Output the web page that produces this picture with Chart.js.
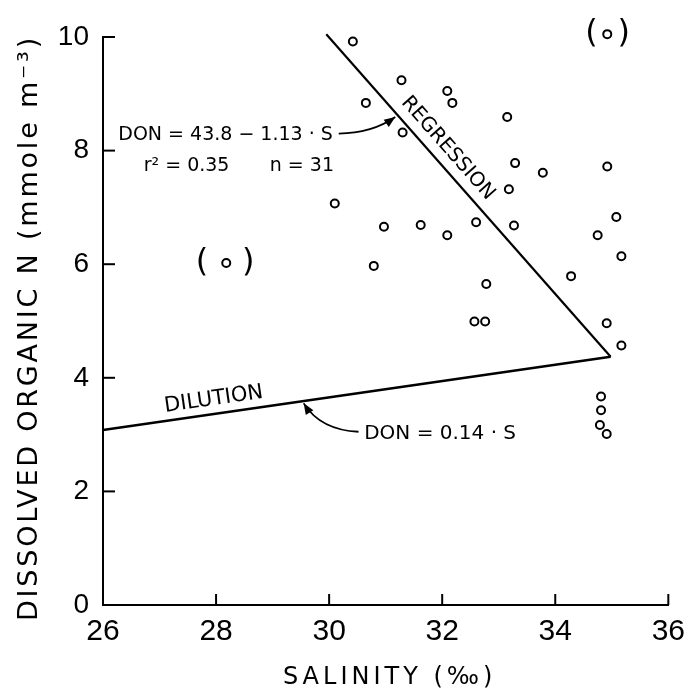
<!DOCTYPE html>
<html>
<head>
<meta charset="utf-8">
<script src="https://cdn.jsdelivr.net/npm/chart.js@4.4.0/dist/chart.umd.min.js"></script>
<style>
html,body{margin:0;padding:0;background:#fff;}
#wrap{width:694px;height:695px;}
canvas{display:block;}
</style>
</head>
<body>
<div id="wrap"><canvas id="c" width="694" height="695"></canvas></div>
<script>
// ---- data ----
const salinity = [30.42, 31.28, 30.65, 32.09, 32.18, 31.30, 33.15, 33.29, 33.78, 34.92,
                  33.18, 30.10, 30.97, 31.62, 32.09, 32.60, 33.27, 35.08, 34.75, 35.17,
                  30.79, 32.78, 34.28, 32.57, 32.76, 34.91, 35.17, 34.81, 34.81, 34.79, 34.91];
const don      = [9.92, 9.24, 8.84, 9.05, 8.84, 8.32, 8.59, 7.78, 7.61, 7.72,
                  7.32, 7.07, 6.66, 6.69, 6.51, 6.74, 6.68, 6.83, 6.51, 6.14,
                  5.97, 5.65, 5.79, 4.99, 4.99, 4.96, 4.57, 3.67, 3.43, 3.17, 3.01];
const excludedSalinity = [28.18, 34.92];
const excludedDon = [6.02, 10.05];
const regressionS = [29.95, 34.98];
const regressionDon = [10.05, 4.37];
const dilutionS = [26, 34.98];
const dilutionDon = [3.08, 4.37];
const xTicks = [26, 28, 30, 32, 34, 36];
const yTicks = [0, 2, 4, 6, 8, 10];
const xTitle = 'SALINITY (‰)';
const yTitle = 'DISSOLVED ORGANIC N (mmole m⁻³)';

const FONT = "'DejaVu Sans', sans-serif";
const TICKFONT = "'Liberation Sans', Arial, sans-serif";
const toXY = (xs, ys) => xs.map((x, i) => ({x: x, y: ys[i]}));

const annotationPlugin = {
  id: 'annot',
  afterDatasetsDraw(chart) {
    const ctx = chart.ctx;
    const xs = chart.scales.x, ys = chart.scales.y;
    const area = chart.chartArea;
    const P = (x, y) => [xs.getPixelForValue(x), ys.getPixelForValue(y)];
    ctx.save();
    ctx.fillStyle = '#000';
    ctx.strokeStyle = '#000';
    // inward tick marks
    ctx.lineWidth = 2;
    yTicks.forEach(v => {
      if (v === yTicks[0]) return;
      const y = ys.getPixelForValue(v);
      ctx.beginPath(); ctx.moveTo(area.left, y); ctx.lineTo(area.left + 12, y); ctx.stroke();
    });
    xTicks.forEach(v => {
      if (v === xTicks[0]) return;
      const x = xs.getPixelForValue(v);
      ctx.beginPath(); ctx.moveTo(x, area.bottom); ctx.lineTo(x, area.bottom - 11); ctx.stroke();
    });

    function text(str, x, y, size, align, rot, spacing) {
      const [px, py] = P(x, y);
      ctx.save();
      ctx.translate(px, py);
      if (rot) ctx.rotate(rot);
      ctx.font = size + 'px ' + FONT;
      ctx.letterSpacing = (spacing || 0) + 'px';
      ctx.textAlign = align || 'left';
      ctx.textBaseline = 'middle';
      ctx.fillText(str, 0, 0);
      ctx.restore();
    }
    function arrow(x0, y0, cx, cy, x1, y1) {
      const [a, b] = P(x0, y0), [c, d] = P(cx, cy), [e, f] = P(x1, y1);
      ctx.lineWidth = 1.8;
      ctx.beginPath(); ctx.moveTo(a, b); ctx.quadraticCurveTo(c, d, e, f); ctx.stroke();
      const ang = Math.atan2(f - d, e - c);
      const L = 11, W = 4.5;
      ctx.beginPath();
      ctx.moveTo(e, f);
      ctx.lineTo(e - L * Math.cos(ang) + W * Math.sin(ang), f - L * Math.sin(ang) - W * Math.cos(ang));
      ctx.lineTo(e - L * Math.cos(ang) - W * Math.sin(ang), f - L * Math.sin(ang) + W * Math.cos(ang));
      ctx.closePath(); ctx.fill();
    }

    // regression label along the line
    const [r1x, r1y] = P(regressionS[0], regressionDon[0]);
    const [r2x, r2y] = P(regressionS[1], regressionDon[1]);
    const regAng = Math.atan2(r2y - r1y, r2x - r1x);
    text('REGRESSION', 32.10, 8.04, 20, 'center', regAng);

    const [d1x, d1y] = P(dilutionS[0], dilutionDon[0]);
    const [d2x, d2y] = P(dilutionS[1], dilutionDon[1]);
    const dilAng = Math.atan2(d2y - d1y, d2x - d1x);
    text('DILUTION', 27.96, 3.62, 21, 'center', dilAng);

    text('DON = 43.8 − 1.13 · S', 26.27, 8.28, 19, 'left');
    text('r² = 0.35', 26.72, 7.72, 19, 'left');
    text('n = 31', 28.95, 7.72, 19, 'left');
    arrow(30.17, 8.30, 30.75, 8.30, 31.17, 8.59);

    text('DON = 0.14 · S', 30.62, 3.02, 20, 'left');
    arrow(30.52, 3.05, 29.85, 3.08, 29.55, 3.55);

    // parentheses around excluded points
    text('(', 27.75, 6.02, 32, 'center');
    text(')', 28.57, 6.02, 32, 'center');
    text('(', 34.64, 10.05, 32, 'center');
    text(')', 35.21, 10.05, 32, 'center');
    ctx.restore();
  },
  afterDraw(chart) {
    // axis titles (drawn with letter spacing as in the original lettering)
    const ctx = chart.ctx;
    const xs = chart.scales.x, ys = chart.scales.y;
    ctx.save();
    ctx.fillStyle = '#000';
    ctx.textAlign = 'center';
    ctx.textBaseline = 'middle';
    ctx.font = '24px ' + FONT;
    ctx.letterSpacing = '4px';
    ctx.fillText(xTitle, (xs.left + xs.right) / 2 + 4, xs.bottom - 17);
    ctx.translate(ys.left + 30, (ys.top + ys.bottom) / 2 + 7);
    ctx.rotate(-Math.PI / 2);
    ctx.font = '27px ' + FONT;
    ctx.letterSpacing = '2.8px';
    ctx.fillText(yTitle, 0, 0);
    ctx.restore();
  }
};

const pointStyle = {
  pointRadius: 4, pointBorderWidth: 2, pointBorderColor: '#000',
  pointBackgroundColor: '#fff', showLine: false
};

new Chart(document.getElementById('c'), {
  type: 'scatter',
  data: {
    datasets: [
      Object.assign({label: 'Stations', data: toXY(salinity, don), clip: false}, pointStyle),
      Object.assign({label: 'Excluded', data: toXY(excludedSalinity, excludedDon), clip: false}, pointStyle),
      {label: 'Regression', data: toXY(regressionS, regressionDon), showLine: true,
       borderColor: '#000', borderWidth: 2.2, pointRadius: 0, clip: false},
      {label: 'Dilution', data: toXY(dilutionS, dilutionDon), showLine: true,
       borderColor: '#000', borderWidth: 2.6, pointRadius: 0, clip: false}
    ]
  },
  options: {
    responsive: false,
    devicePixelRatio: 1,
    animation: false,
    layout: {padding: {top: 37, right: 21, left: 0, bottom: 0}},
    plugins: {legend: {display: false}, tooltip: {enabled: false}},
    scales: {
      x: {
        type: 'linear', min: 26, max: 36,
        afterBuildTicks: s => { s.ticks = xTicks.map(v => ({value: v})); },
        afterFit: s => { s.height = 90; },
        grid: {display: false, drawTicks: false},
        border: {display: true, color: '#000', width: 2},
        ticks: {color: '#000', font: {family: TICKFONT, size: 30}, padding: 9},
        title: {display: false, text: xTitle}
      },
      y: {
        type: 'linear', min: 0, max: 10,
        afterBuildTicks: s => { s.ticks = yTicks.map(v => ({value: v})); },
        afterFit: s => { s.width = 103; },
        grid: {display: false, drawTicks: false},
        border: {display: true, color: '#000', width: 2},
        ticks: {color: '#000', font: {family: TICKFONT, size: 28}, padding: 14},
        title: {display: false, text: yTitle}
      }
    }
  },
  plugins: [annotationPlugin]
});
</script>
</body>
</html>
